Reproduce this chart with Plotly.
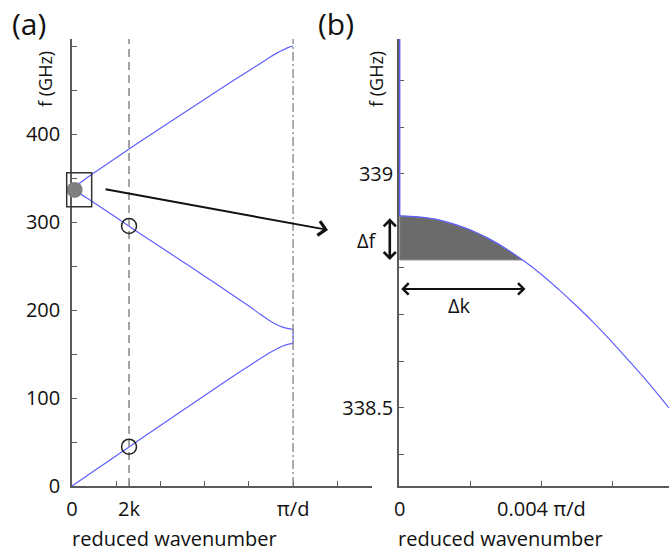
import plotly.graph_objects as go

# ---------------- data ----------------
# panel (a): dispersion branches, k in units of pi/d, f in GHz
k_a = [0, 0.05, 0.1, 0.2, 0.3, 0.4, 0.5, 0.6, 0.7, 0.8, 0.85, 0.9, 0.93, 0.95, 0.98, 1.0]
f_lower = [0, 8.6, 17.2, 34.4, 51.6, 68.7, 85.8, 102.9, 120, 136.5, 144.5, 152.3, 156.3, 158.8, 161.2, 162]
f_mid = [338, 330, 322, 305, 288, 271.5, 255, 238.5, 221.5, 204.5, 195.5, 187, 183, 180.8, 178.8, 178]
f_upper = [338, 347, 356, 373, 390, 406.5, 423, 439.5, 456, 472, 480, 488, 492.5, 495, 498.5, 500]

two_k = 0.258
circle_k = [two_k, two_k]
circle_f = [295.5, 44.7]
dot_k = [0.012]
dot_f = [336.5]
zoom_box_k = [-0.024, 0.089]
zoom_box_f = [317.4, 356.0]
arrow_from = (0.145, 337.5)
arrow_to = (1.158, 291.0)

a_x_tickvals = [0, 0.2, two_k, 0.4, 0.6, 0.8, 1.0, 1.2]
a_x_ticktext = ["0", "", "2k", "", "", "", "π/d", ""]
a_y_tickvals = [0, 50, 100, 150, 200, 250, 300, 350, 400, 450, 500]
a_y_ticktext = ["0", "", "100", "", "200", "", "300", "", "400", "", ""]

# panel (b): zoom near k = 0
k_b = [0, 0.0005, 0.001, 0.0015, 0.002, 0.0025, 0.003, 0.0035, 0.004, 0.0045,
       0.005, 0.0055, 0.006, 0.0065, 0.007, 0.0076]
f_b = [338.910, 338.908, 338.903, 338.893, 338.880, 338.862, 338.840, 338.814,
       338.785, 338.752, 338.717, 338.680, 338.640, 338.598, 338.555, 338.500]
vert_k = [0, 0]
vert_f = [338.910, 339.288]
shade_f_bottom = 338.816
shade_k_end = 0.00346
dk_arrow_k = [0, 0.00355]
dk_arrow_f = 338.754
df_arrow_k = -0.00028
df_arrow_f = [338.908, 338.816]

b_x_tickvals = [0, 0.002, 0.004, 0.006]
b_x_ticktext = ["0", "", "0.004 π/d", ""]
b_y_tickvals = [338.4, 338.5, 338.6, 338.7, 338.8, 338.9, 339.0, 339.1, 339.2]
b_y_ticktext = ["", "338.5", "", "", "", "", "339", "", ""]

# ---------------- layout geometry ----------------
W, H = 669, 556
FONT = "Open Sans"
BLUE = "rgb(95,95,255)"
AXC = "#5a5a5a"

xa_dom = [72 / W, 372 / W]
xb_dom = [399 / W, 1.0]
y_dom = [1 - 486 / H, 1 - 39 / H]
xa_rng = [0, 1.357]
ya_rng = [0, 508]
xb_rng = [-0.00002, 0.0076]
yb_rng = [338.333, 339.288]


def to_paper(k, f, xdom, xrng, yrng):
    xp = xdom[0] + (k - xrng[0]) / (xrng[1] - xrng[0]) * (xdom[1] - xdom[0])
    yp = y_dom[0] + (f - yrng[0]) / (yrng[1] - yrng[0]) * (y_dom[1] - y_dom[0])
    return xp, yp


fig = go.Figure()

# panel (a) traces
line_kw = dict(color=BLUE, width=1.2, shape="spline", smoothing=0.5)
fig.add_trace(go.Scatter(x=k_a, y=f_lower, mode="lines", line=line_kw, xaxis="x", yaxis="y"))
fig.add_trace(go.Scatter(x=[k_a[-1], k_a[-1]], y=[f_lower[-1], f_mid[-1]], mode="lines",
                         line=dict(color=BLUE, width=1.2), xaxis="x", yaxis="y"))
fig.add_trace(go.Scatter(x=k_a, y=f_mid, mode="lines", line=line_kw, xaxis="x", yaxis="y"))
fig.add_trace(go.Scatter(x=k_a, y=f_upper, mode="lines", line=line_kw, xaxis="x", yaxis="y"))

# vertical reference lines
fig.add_trace(go.Scatter(x=[two_k, two_k], y=ya_rng, mode="lines",
                         line=dict(color="#8c8c8c", width=1.6, dash="8px,5px"),
                         xaxis="x", yaxis="y"))
fig.add_trace(go.Scatter(x=[1.0, 1.0], y=ya_rng, mode="lines",
                         line=dict(color="#8c8c8c", width=1.4, dash="9px,3px,2px,3px"),
                         xaxis="x", yaxis="y"))

fig.add_trace(go.Scatter(x=dot_k, y=dot_f, mode="markers", cliponaxis=False,
                         marker=dict(size=16, color="#7f7f7f"), xaxis="x", yaxis="y"))
fig.add_trace(go.Scatter(x=circle_k, y=circle_f, mode="markers", cliponaxis=False,
                         marker=dict(size=15, color="rgba(0,0,0,0)",
                                     line=dict(color="#222", width=1.5)),
                         xaxis="x", yaxis="y"))

# panel (b) traces
shade_k = [0] + [k for k in k_b if k < shade_k_end] + [shade_k_end, 0]
shade_f = [shade_f_bottom] + [f for k, f in zip(k_b, f_b) if k < shade_k_end] + [shade_f_bottom, shade_f_bottom]
fig.add_trace(go.Scatter(x=shade_k, y=shade_f, mode="lines", fill="toself",
                         fillcolor="#6b6b6b", line=dict(color="#8a8a8a", width=1),
                         xaxis="x2", yaxis="y2"))
fig.add_trace(go.Scatter(x=k_b, y=f_b, mode="lines",
                         line=dict(color=BLUE, width=1.2, shape="spline"),
                         xaxis="x2", yaxis="y2"))
fig.add_trace(go.Scatter(x=vert_k, y=vert_f, mode="lines",
                         line=dict(color=BLUE, width=1.4), xaxis="x2", yaxis="y2"))

# ---------------- axes ----------------
tickfont = dict(family=FONT, size=20, color="#111")
common = dict(showline=True, linecolor=AXC, linewidth=1.5, ticks="inside", ticklen=5,
              tickcolor=AXC, tickwidth=1.2, showgrid=False, zeroline=False,
              tickfont=tickfont, tickmode="array", automargin=False, layer="below traces")

fig.update_layout(
    width=W, height=H,
    margin=dict(l=0, r=0, t=0, b=0),
    paper_bgcolor="white", plot_bgcolor="white",
    showlegend=False,
    font=dict(family=FONT, color="#111"),
    xaxis=dict(domain=xa_dom, range=xa_rng, anchor="y", tickvals=a_x_tickvals,
               ticktext=a_x_ticktext, ticklabelstandoff=4, **common),
    yaxis=dict(domain=y_dom, range=ya_rng, anchor="x", tickvals=a_y_tickvals,
               ticktext=a_y_ticktext, ticklabelstandoff=6, **common),
    xaxis2=dict(domain=xb_dom, range=xb_rng, anchor="y2", tickvals=b_x_tickvals,
                ticktext=b_x_ticktext, ticklabelstandoff=4, **common),
    yaxis2=dict(domain=y_dom, range=yb_rng, anchor="x2", tickvals=b_y_tickvals,
                ticktext=b_y_ticktext, ticklabelstandoff=0, **common),
)

# zoom box around the k=0 point
bx0, by0 = to_paper(zoom_box_k[0], zoom_box_f[0], xa_dom, xa_rng, ya_rng)
bx1, by1 = to_paper(zoom_box_k[1], zoom_box_f[1], xa_dom, xa_rng, ya_rng)
fig.add_shape(type="rect", xref="paper", yref="paper", x0=bx0, y0=by0, x1=bx1, y1=by1,
              line=dict(color="#333", width=1.5))

# ---------------- annotations ----------------
ann = []
ann.append(dict(x=arrow_to[0], y=arrow_to[1], ax=arrow_from[0], ay=arrow_from[1],
                xref="x", yref="y", axref="x", ayref="y", text="", showarrow=True,
                arrowhead=4, arrowsize=1.4, arrowwidth=2, arrowcolor="#111"))
ann.append(dict(x=dk_arrow_k[1], y=dk_arrow_f, ax=dk_arrow_k[0], ay=dk_arrow_f,
                xref="x2", yref="y2", axref="x2", ayref="y2", text="", showarrow=True,
                arrowhead=4, startarrowhead=4, arrowside="end+start", arrowsize=1.1,
                startarrowsize=1.1, arrowwidth=2, arrowcolor="#111"))
dfx, dfy0 = to_paper(df_arrow_k, df_arrow_f[0], xb_dom, xb_rng, yb_rng)
_, dfy1 = to_paper(df_arrow_k, df_arrow_f[1], xb_dom, xb_rng, yb_rng)
ann.append(dict(x=dfx, y=dfy1, ax=0, ay=-(dfy0 - dfy1) * H,
                xref="paper", yref="paper", text="", showarrow=True,
                arrowhead=4, startarrowhead=4, arrowside="end+start", arrowsize=0.9,
                startarrowsize=0.9, arrowwidth=2.6, arrowcolor="#111"))

txt = lambda s, x, y, size, **kw: dict(text=s, x=x / W, y=1 - y / H, xref="paper", yref="paper",
                                       showarrow=False, font=dict(family=FONT, size=size, color="#111"),
                                       **kw)
ann.append(txt("(a)", 10, 24, 30, xanchor="left", yanchor="middle"))
ann.append(txt("(b)", 316, 24, 30, xanchor="left", yanchor="middle"))
ann.append(txt("f (GHz)", 45, 79, 18, textangle=-90, xanchor="center", yanchor="middle"))
ann.append(txt("f (GHz)", 376, 79, 18, textangle=-90, xanchor="center", yanchor="middle"))
ann.append(txt("reduced wavenumber", 70, 538, 20, xanchor="left", yanchor="middle"))
ann.append(txt("reduced wavenumber", 396, 538, 20, xanchor="left", yanchor="middle"))
ann.append(txt("Δf", 367, 240, 20, xanchor="center", yanchor="middle"))
ann.append(txt("Δk", 459, 305, 20, xanchor="center", yanchor="middle"))
fig.update_layout(annotations=ann)

fig.write_html("out.html", config={"displayModeBar": False},
               post_script="document.body.style.margin='0px';")
